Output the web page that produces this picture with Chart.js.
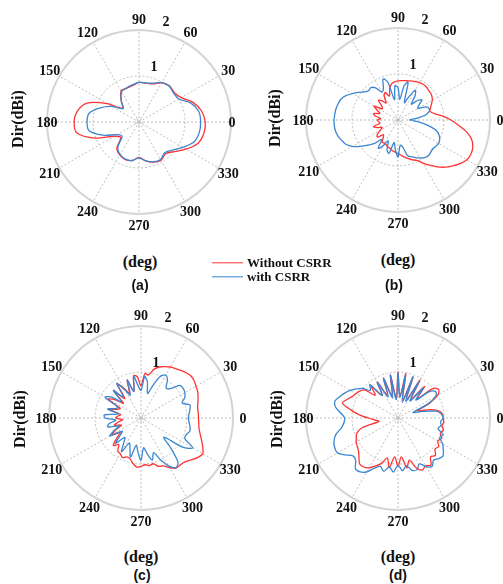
<!DOCTYPE html>
<html><head><meta charset="utf-8">
<script src="https://cdn.jsdelivr.net/npm/chart.js@4.4.1/dist/chart.umd.min.js"></script>
<style>
html,body{margin:0;padding:0;background:#fff}
body{width:503px;height:584px;position:relative;overflow:hidden}
canvas{position:absolute}
.t{position:absolute;font:bold 16px "Liberation Serif",serif;color:#111;transform:translate(-50%,-50%);white-space:nowrap}
.y{position:absolute;font:bold 16px "Liberation Serif",serif;color:#111;transform:translate(-50%,-50%) rotate(-90deg);white-space:nowrap}
.s{position:absolute;font:bold 14px "Liberation Sans",Arial,sans-serif;color:#111;transform:translate(-50%,-50%);white-space:nowrap}
.lg{position:absolute;font:bold 13px "Liberation Serif",serif;color:#111;white-space:nowrap;transform:translateY(-50%)}
.ln{position:absolute;height:1.4px;width:31px;transform:translateY(-50%)}
</style></head><body>
<canvas id="ca" width="252" height="250" style="left:0;top:0"></canvas>
<canvas id="cb" width="251" height="250" style="left:252px;top:0"></canvas>
<canvas id="cc" width="252" height="250" style="left:0;top:292px"></canvas>
<canvas id="cd" width="251" height="250" style="left:252px;top:292px"></canvas>

<div class="y" style="left:18px;top:119px">Dir(dBi)</div>
<div class="y" style="left:275px;top:118px">Dir(dBi)</div>
<div class="y" style="left:20px;top:419px">Dir(dBi)</div>
<div class="y" style="left:277px;top:419px">Dir(dBi)</div>

<div class="t" style="left:140px;top:262px">(deg)</div>
<div class="t" style="left:398px;top:260px">(deg)</div>
<div class="t" style="left:141px;top:557px">(deg)</div>
<div class="t" style="left:398px;top:557px">(deg)</div>

<div class="s" style="left:140px;top:285px">(a)</div>
<div class="s" style="left:394px;top:285px">(b)</div>
<div class="s" style="left:142px;top:575px">(c)</div>
<div class="s" style="left:398px;top:575px">(d)</div>

<div class="ln" style="left:212px;top:263px;background:#ff3333"></div>
<div class="lg" style="left:247px;top:263px">Without CSRR</div>
<div class="ln" style="left:212px;top:277px;background:#3a86d0"></div>
<div class="lg" style="left:247px;top:277px">with CSRR</div>

<script>
// ---- categories (angles, degrees) ----
const ANGLES_10 = Array.from({length: 36}, (_, i) => i * 10);
const ANGLES_5 = Array.from({length: 72}, (_, i) => i * 5);
// ---- tick labels ----
const ANGLE_TICKS = [0, 30, 60, 90, 120, 150, 180, 210, 240, 270, 300, 330];
const R_TICKS = [1, 2];
const SERIES_NAMES = ['Without CSRR', 'with CSRR'];

// ---- (a) values, every 10 deg from 0 ----
const redA = [1.44,1.38,1.25,1.06,1.0,1.03,0.98,0.88,0.86,0.86,0.8,0.78,0.78,0.6,0.47,0.8,1.2,1.36,1.41,1.37,1.02,0.62,0.52,0.75,0.83,0.87,0.85,0.77,0.86,0.93,0.96,0.9,1.0,1.18,1.36,1.43];
const blueA = [1.34,1.32,1.2,1.0,0.98,1.02,0.99,0.9,0.86,0.86,0.82,0.79,0.76,0.6,0.45,0.68,0.9,1.1,1.13,1.1,0.84,0.55,0.48,0.72,0.82,0.86,0.85,0.78,0.86,0.92,0.94,0.87,0.95,1.1,1.27,1.33];

// ---- (b) values, every 5 deg from 0 ----
const redB = [1.15,0.98,0.8,0.72,0.75,0.8,0.86,0.9,0.92,0.93, 0.95,0.95,0.94,0.92,0.9,0.88,0.87,0.86,0.85,0.83, 0.8,0.7,0.55,0.66,0.6,0.45,0.55,0.6,0.45,0.42, 0.6,0.5,0.42,0.55,0.5,0.38,0.45,0.42,0.4,0.55, 0.48,0.38,0.45,0.55,0.58,0.45,0.5,0.6,0.58,0.6, 0.63,0.64,0.68,0.7,0.73,0.77,0.82,0.87,0.92,0.97, 1.08,1.2,1.33,1.45,1.55,1.65,1.73,1.75,1.73,1.66, 1.52,1.32];
const blueB = [0.25,0.4,0.6,0.7,0.72,0.68,0.5,0.55,0.68,0.6, 0.45,0.65,0.75,0.55,0.4,0.85,0.75,0.45,0.7,0.75, 0.45,0.85,0.95,0.75,0.7,0.85,0.92,0.9,0.95,1.05, 1.15,1.25,1.32,1.35,1.37,1.38,1.39,1.39,1.38,1.35, 1.3,1.25,1.15,1.0,0.85,0.72,0.55,0.75,0.65,0.5, 0.7,0.75,0.5,0.65,0.8,0.55,0.6,0.8,0.85,0.9, 0.95,1.0,1.02,1.0,0.98,1.0,1.02,1.0,0.95,0.85, 0.65,0.45];

// ---- (c) values, every 5 deg from 0 ----
const redC = [1.25,1.25,1.25,1.28,1.32,1.36,1.38,1.41,1.42,1.39, 1.35,1.31,1.28,1.23,1.18,1.1,0.95,0.97,0.7,0.9, 0.93,0.6,0.88,0.6,0.75,0.9,0.55,0.85,0.5,0.7, 0.82,0.5,0.55,0.7,0.45,0.5,0.55,0.4,0.5,0.6, 0.45,0.6,0.72,0.55,0.7,0.85,0.75,0.88,0.9,0.95, 0.9,0.92,1.0,1.07,1.05,1.02,1.05,1.03,1.12,1.15, 1.25,1.33,1.33,1.35,1.42,1.5,1.55,1.48,1.4,1.33, 1.28,1.26];
const blueC = [1.03,1.05,1.08,1.1,0.95,1.05,1.1,1.12,1.1,0.9, 0.85,1.0,1.08,1.0,0.75,0.55,0.8,0.9,0.6,0.7, 0.92,0.6,0.88,0.55,0.7,0.92,0.6,0.85,0.55,0.8, 0.9,0.55,0.6,0.75,0.5,0.8,0.78,0.55,0.7,0.75, 0.5,0.65,0.78,0.5,0.6,0.78,0.55,0.65,0.85,0.6, 0.7,0.88,0.6,0.75,0.92,0.65,0.8,0.95,0.8,1.0, 1.2,1.32,1.25,0.9,0.65,1.1,1.3,1.05,1.05,1.1, 1.08,1.05];

// ---- (d) values, every 5 deg from 0 ----
const redD = [0.98,0.97,0.9,0.7,0.45,0.75,1.0,1.08,1.0,0.6, 0.9,0.5,0.95,0.45,0.95,0.4,0.98,0.5,1.0,0.45, 0.95,0.5,0.92,0.55,0.9,0.6,0.9,0.7,0.95,1.02, 1.06,1.1,1.18,1.25,1.05,0.85,0.65,0.5,0.42,0.8, 0.95,1.0,1.05,1.08,1.12,1.2,1.3,1.3,1.25,1.15, 1.05,0.9,1.1,0.85,1.05,0.85,1.1,0.95,1.15,1.25, 1.2,1.25,1.1,1.15,1.05,1.08,1.0,1.05,0.98,1.02, 0.97,1.0];
const blueD = [0.98,0.95,0.85,0.55,0.35,0.7,0.95,1.0,0.9,0.55, 0.85,0.45,0.9,0.4,0.95,0.35,0.95,0.45,0.98,0.4, 0.95,0.45,0.92,0.5,0.9,0.6,0.95,0.85,1.0,1.1, 1.2,1.28,1.35,1.42,1.38,1.25,1.16,1.18,1.25,1.4, 1.48,1.52,1.52,1.4,1.28,1.3,1.44,1.43,1.35,1.2, 1.12,1.2,1.08,1.18,1.03,1.15,1.05,1.18,1.2,1.1, 1.22,1.29,1.2,1.25,1.28,1.2,1.12,1.0,1.05,0.9, 0.95,0.93];

const RED = '#ff3333', BLUE = '#3a86d0';

// Chart.js radar runs clockwise from its start angle; angles here run counter-clockwise from east.
function ccw(arr) { const n = arr.length; return arr.map((_, i) => arr[(n - i) % n]); }

const polarText = {
  id: 'polarText',
  afterDraw(chart, args, o) {
    const s = chart.scales.r, c = chart.ctx;
    const labels = chart.data.labels;
    const R = s.getDistanceFromCenterForValue(s.max);
    c.save();
    c.font = 'bold 14px "Liberation Serif", serif';
    c.fillStyle = '#111';
    c.textAlign = 'center';
    c.textBaseline = 'middle';
    ANGLE_TICKS.forEach(a => {
      const idx = labels.indexOf(a);
      const extra = a === 0 ? o.zero : a === 180 ? o.half : 11;
      const p = s.getPointPosition(idx, R + extra);
      c.fillText(String(a), p.x, p.y + 1);
    });
    const t = 75 * Math.PI / 180;
    R_TICKS.forEach(v => {
      const d = s.getDistanceFromCenterForValue(v) + 12;
      c.fillText(String(v), s.xCenter + d * Math.cos(t), s.yCenter - d * Math.sin(t) + 1);
    });
    c.restore();
  }
};

function makeChart(id, angles, red, blue, pad, zero, half) {
  new Chart(document.getElementById(id), {
    type: 'radar',
    data: {
      labels: ccw(angles),
      datasets: [
        {label: SERIES_NAMES[1], data: ccw(blue), borderColor: BLUE, borderWidth: 1.3, pointRadius: 0, pointHitRadius: 0, fill: false, tension: 0.3, backgroundColor: 'transparent'},
        {label: SERIES_NAMES[0], data: ccw(red), borderColor: RED, borderWidth: 1.3, pointRadius: 0, pointHitRadius: 0, fill: false, tension: 0.3, backgroundColor: 'transparent'}
      ]
    },
    options: {
      responsive: false,
      animation: false,
      events: [],
      devicePixelRatio: 1,
      layout: {padding: pad},
      plugins: {legend: {display: false}, tooltip: {enabled: false}, polarText: {zero, half}},
      scales: {
        r: {
          min: 0, max: 2,
          startAngle: 90,
          ticks: {display: false, stepSize: 1},
          afterBuildTicks: sc => { sc.ticks = [0, 0.07, 1, 2].map(v => ({value: v})); },
          grid: {
            circular: true,
            color: ctx => ctx.tick && ctx.tick.value === 2 ? '#d4d4d4' : '#bdbdbd',
            lineWidth: ctx => ctx.tick && ctx.tick.value === 2 ? 2 : 1
          },
          border: {dash: ctx => ctx.tick && ctx.tick.value === 2 ? [] : [2, 2]},
          angleLines: {
            color: '#bdbdbd',
            lineWidth: ctx => Number(ctx.label) % 30 === 0 ? 1 : 0,
            borderDash: [2, 2]
          },
          pointLabels: {display: false}
        }
      }
    },
    plugins: [polarText]
  });
}

makeChart('ca', ANGLES_10, redA, blueA, {left: 47, top: 30, right: 21, bottom: 36}, 1, 0);
makeChart('cb', ANGLES_5, redB, blueB, {left: 54, top: 28, right: 13, bottom: 38}, 10, 3);
makeChart('cc', ANGLES_5, redC, blueC, {left: 49, top: 34, right: 19, bottom: 32}, 10, 3);
makeChart('cd', ANGLES_5, redD, blueD, {left: 54, top: 34, right: 13, bottom: 32}, 10, 3);
</script>
</body></html>
